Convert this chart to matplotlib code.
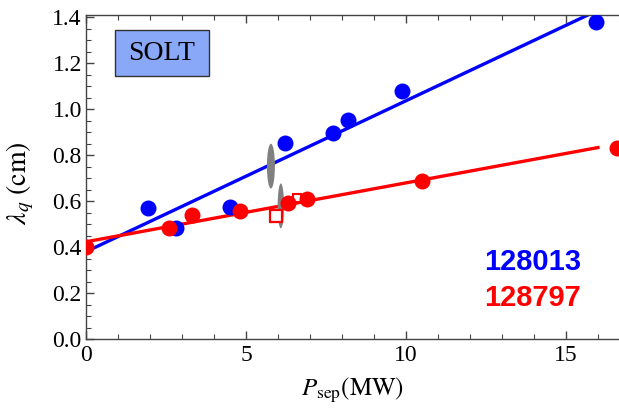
import matplotlib
matplotlib.use("Agg")
import matplotlib.pyplot as plt
from matplotlib.patches import Ellipse, Rectangle
import numpy as np

# Data
blue_x = [1.95, 2.8, 4.5, 6.22, 7.73, 8.19, 9.88, 15.95]
blue_y = [0.57, 0.484, 0.575, 0.855, 0.898, 0.952, 1.08, 1.378]
red_x = [0.0, 2.6, 3.3, 4.8, 6.3, 6.9, 10.5, 16.6]
red_y = [0.40, 0.485, 0.54, 0.558, 0.591, 0.611, 0.688, 0.83]
red_open_x = [5.95]
red_open_y = [0.535]
red_small_open_x = [6.58]
red_small_open_y = [0.613]
blue_fit = [0.381, 0.0656]   # intercept, slope
red_fit = [0.424, 0.0256]
fit_range = [0.0, 16.0]
ell_x = [5.78, 6.09]
ell_y = [0.753, 0.58]
ell_h = [0.195, 0.195]
ell_w = [0.25, 0.2]
labels = ["128013", "128797"]
box_label = "SOLT"

plt.rcParams['mathtext.fontset'] = 'stix'
serif = ['Liberation Serif', 'DejaVu Serif']

W, H = 619, 415
fig = plt.figure(figsize=(W/100, H/100), dpi=100)
ax = fig.add_axes([86/W, 75.7/H, 1 - 86/W, (339.3-15)/H])

xs = np.array(fit_range)
ax.plot(xs, blue_fit[0] + blue_fit[1]*xs, color='#0000ff', lw=2.4, zorder=2)
ax.plot(xs, red_fit[0] + red_fit[1]*xs, color='#ff0000', lw=2.4, zorder=2)

for cx, cy, w, h in zip(ell_x, ell_y, ell_w, ell_h):
    ax.add_patch(Ellipse((cx, cy), w, h, color='#808080', zorder=3, lw=0))

ax.plot(red_small_open_x, red_small_open_y, 's', mfc='white', mec='#ff0000', ms=6, mew=1.5, zorder=3)
ax.plot(blue_x, blue_y, 'o', color='#0000ff', ms=11.5, mew=0, zorder=4)
ax.plot(red_x, red_y, 'o', color='#ff0000', ms=11.5, mew=0, zorder=4)
ax.plot(red_open_x, red_open_y, 's', mfc='white', mec='#ff0000', ms=8.5, mew=1.6, zorder=5)

ax.set_xlim(0, 16.66)
ax.set_ylim(0, 1.41)
ax.set_xticks([0, 5, 10, 15])
ax.set_xticks(np.arange(0, 17, 1), minor=True)
ax.set_yticks(np.arange(0, 1.41, 0.2))
ax.set_yticks(np.arange(0, 1.41, 0.05), minor=True)
ax.set_yticklabels([f"{v:.1f}" for v in np.arange(0, 1.41, 0.2)])
ax.tick_params(which='both', direction='in', top=True, right=False, color='#444444')
ax.tick_params(which='major', length=6, width=1, labelsize=17)
ax.tick_params(axis='x', which='major', pad=4)
ax.tick_params(axis='y', which='major', pad=3)
ax.tick_params(which='minor', length=3.5, width=0.8)
for lab in ax.get_xticklabels() + ax.get_yticklabels():
    lab.set_family(serif)
for s in ['left', 'bottom', 'top']:
    ax.spines[s].set_color('#444444')
    ax.spines[s].set_linewidth(1)
ax.spines['right'].set_visible(False)

ax.set_xlabel(r'$P_{\mathrm{sep}}\mathrm{(MW)}$', fontsize=18, labelpad=7)
ax.set_ylabel(r'$\lambda_q\ \mathrm{(cm)}$', fontsize=20)
ax.yaxis.set_label_coords((36-86)/533, (339.3-183)/324.3)

# SOLT box
fig.patches.append(Rectangle((115/W, 1 - 76/H), 94/W, 46/H, transform=fig.transFigure,
                             fc='#8aa8f8', ec='#333333', lw=1, zorder=5))
fig.text(162/W, 1 - 53/H, box_label, ha='center', va='center', fontsize=20, family=serif, zorder=6)

fig.text(533/W, 1 - 262/H, labels[0], color='#0000ff', fontsize=21, fontweight='bold',
         family=['Liberation Sans', 'DejaVu Sans'], ha='center', va='center')
fig.text(533/W, 1 - 298/H, labels[1], color='#ff0000', fontsize=21, fontweight='bold',
         family=['Liberation Sans', 'DejaVu Sans'], ha='center', va='center')

fig.savefig('out.png', dpi=100)
